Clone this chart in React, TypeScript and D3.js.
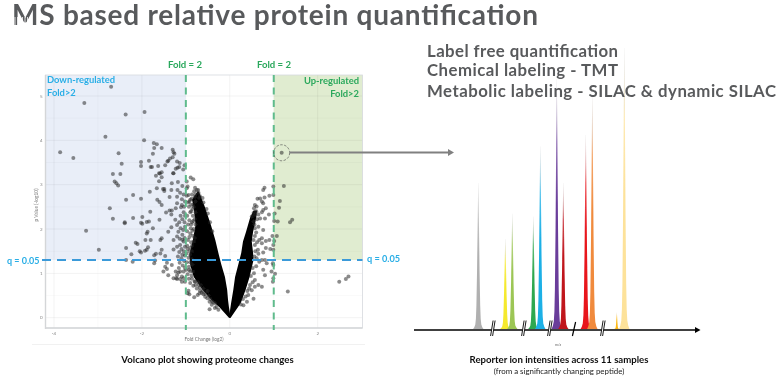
import React from "react";
import * as d3 from "d3";

const W = 777, H = 382;

// ---------- volcano data: [log2 fold change, -log10 p]
const pointsDownRegulated: number[][] = [
[-2.70,5.21],[-3.31,4.84],[-2.37,4.58],[-1.94,4.64],[-2.83,4.08],[-1.95,4.0],[-3.86,3.73],[-3.56,3.6],[-2.53,3.71],[-2.46,3.47],
[-1.73,3.94],[-1.66,3.91],[-1.72,3.83],[-1.55,3.83],[-1.75,3.70],[-1.30,3.79],[-1.28,3.73],[-1.26,3.70],[-1.30,3.62],[-1.36,3.59],
[-1.40,3.54],[-1.42,3.52],[-2.02,3.51],[-2.02,3.42],[-1.84,3.54],[-1.80,3.40],[-1.77,3.40],[-1.63,3.42],[-1.47,3.44],[-1.20,3.52],
[-1.14,3.49],[-1.23,3.36],[-1.19,3.38],[-1.15,3.40],[-1.06,3.34],[-1.03,3.44],[-1.55,3.28],[-1.59,3.25],[-1.28,3.26],[-2.66,3.24],[-2.49,3.24],
[-2.62,3.07],[-2.58,3.03],[-2.54,2.98],[-2.20,2.77],[-2.36,2.66],[-2.02,2.68],[-2.73,2.47],[-2.66,2.23],[-2.39,2.15],[-2.39,2.13],
[-2.20,2.25],[-1.99,2.27],[-1.81,2.39],[-3.27,1.96],[-2.98,1.53],[-2.36,1.57],[-2.14,1.69],[-2.10,1.66],[-2.24,1.43],[-2.05,1.50],[-2.02,1.47],
[-1.93,1.51],[-1.89,1.53],[-1.86,1.59],[-1.92,1.75],[-1.80,1.75],[-1.89,1.90],[-1.87,1.94],[-2.02,2.14],[-1.99,2.12],[-1.89,2.16],[-1.84,2.17],
[-1.75,2.02],[-1.60,2.21],[-1.65,2.66],[-1.60,2.61],[-1.55,2.54],[-1.82,2.84],[-1.66,2.92],[-1.52,2.90],[-1.49,2.90],[-1.49,2.86],
[-1.68,3.20],[-1.61,3.26],[-1.55,3.17],[-1.61,3.08],[-1.29,3.26],[-1.32,3.03],[-1.18,3.06],[-1.08,2.97],[-0.98,3.07],[-0.96,2.96],
[-1.33,2.88],[-1.37,2.72],[-1.19,2.88],[-1.13,2.82],[-1.20,2.73],[-1.09,2.67],[-1.20,2.58],[-1.09,2.54],[-1.37,2.42],[-1.45,2.37],
[-1.32,2.42],[-1.33,2.33],[-1.23,2.47],[-1.11,2.49],[-1.24,2.21],[-1.20,2.09],[-1.33,2.04],[-1.40,1.94],[-1.17,1.94],[-1.28,1.75],
[-1.55,1.79],[-1.58,1.75],[-1.20,1.83],[-1.08,1.87],[-1.02,2.05],[-1.05,1.72],[-1.13,1.64],[-1.20,1.60],[-1.28,1.54],[-1.02,1.60],
[-1.55,1.53],[-1.58,1.45],[-1.68,1.44],[-1.47,1.39],[-1.72,1.41],[-1.72,1.23],[-1.43,1.24],[-1.32,1.19],[-1.47,1.15],[-2.21,1.26],[-2.36,1.30],
[-1.70,1.29],[-1.51,1.04],[-1.43,1.10],[-1.23,1.04],[-1.40,0.96],[-1.13,1.04],[-1.20,0.87],[-1.28,0.89],[-1.05,0.89],[-1.09,0.81],
[-1.12,2.30],[-1.05,2.38],[-1.15,2.15],[-1.08,2.22],[-1.03,2.15],[-1.12,2.02],[-1.06,1.98],[-1.14,1.78],[-1.08,1.76],[-1.03,1.80],
[-1.10,1.55],[-1.05,1.50],[-1.15,1.48],[-1.08,1.42],[-1.02,1.40],[-1.18,1.38],[-1.10,1.34],[-1.04,1.28],[-1.14,1.24],[-1.07,1.18],
[-1.02,1.12],[-1.16,1.12],[-1.05,2.78],[-1.02,2.62],[-1.04,2.50],[-1.02,2.30],
];
const pointsLeftFringe: number[][] = [
[-0.94,0.61],[-0.96,0.55],[-0.92,0.53],[-0.81,0.46],[-0.73,0.51],[-0.68,0.61],[-0.64,0.56],[-0.60,0.53],[-0.56,0.47],[-0.46,0.36],
[-0.46,0.19],[-0.41,0.29],[-0.33,0.32],[-0.51,0.44],[-0.69,0.55],[-1.20,0.96],[-1.22,0.89],[-1.13,0.87],[-1.02,0.81],[-1.05,1.04],
[-1.17,1.02],[-1.09,0.93],[-0.90,0.78],[-0.83,0.72],[-0.79,0.81],[-0.71,0.74],[-0.75,0.66],[-0.60,0.66],[-0.52,0.59],
[-0.89,3.16],[-0.83,3.12],[-0.79,2.93],[-0.75,2.88],[-0.81,2.85],[-0.71,2.81],[-0.98,2.92],[-0.94,2.77],[-0.90,2.66],
[-0.98,2.75],[-0.95,2.6],[-0.93,2.5],[-0.88,2.55],[-0.85,2.45],[-0.9,2.38],[-0.97,2.3],[-0.84,2.3],[-0.92,2.2],[-0.86,2.15],[-0.8,2.22],
[-0.95,2.1],[-0.89,2.02],[-0.82,2.0],[-0.97,1.95],[-0.9,1.9],[-0.84,1.85],[-0.8,1.8],[-0.95,1.75],[-0.88,1.7],[-0.97,1.62],[-0.92,1.5],
[-0.9,1.58],[-0.99,1.45],[-0.94,1.35],[-0.98,1.25],[-0.93,1.15],[-0.99,1.08],[-0.96,0.98],[-0.9,1.05],[-0.87,0.95],[-0.93,0.88],
[-0.8,0.82],[-0.72,0.8],[-0.66,0.74],[-0.83,2.55],[-0.78,2.62],[-0.87,2.68],[-0.8,2.72],[-0.72,2.88],[-0.68,2.74],[-0.62,2.7],[-0.6,2.6],
[-0.53,2.45],[-0.5,2.35],[-0.45,2.15],[-0.4,1.95],
[-0.86,2.78],[-0.78,2.78],[-0.70,2.70],[-0.92,2.62],[-0.82,2.50],[-0.88,2.40],[-0.78,2.38],[-0.83,2.18],[-0.88,2.10],[-0.78,2.10],
[-0.85,1.96],[-0.92,1.82],[-0.82,1.72],[-0.86,1.62],[-0.96,1.55],[-0.86,1.50],[-0.90,1.42],[-0.86,1.32],[-0.90,1.25],[-0.85,1.20],
[-0.92,1.08],[-0.84,1.04],[-0.86,0.88],[-0.78,0.74],[-0.68,0.68],[-0.62,0.60],[-0.56,0.54],[-0.48,0.50],[-0.44,0.42],[-0.38,0.34],
[-0.30,0.24],[-0.26,0.18],[-0.34,0.22],[-0.40,0.37],[-0.50,0.60],
];
const pointsRightFringe: number[][] = [
[0.76,2.88],[0.79,2.93],[0.99,2.96],[0.90,2.75],[0.99,2.77],[0.79,2.71],[0.69,2.69],[0.63,2.68],[0.76,2.58],[0.73,2.62],[0.61,2.51],
[0.55,2.47],[0.57,2.54],[0.82,2.47],[0.76,2.43],[0.89,2.33],[0.73,2.38],[0.65,2.33],[0.57,2.32],[0.50,2.28],[0.80,2.24],[0.69,2.24],
[0.54,2.17],[0.65,2.05],[0.57,2.02],[0.76,1.98],[0.67,1.75],[0.73,1.79],[0.82,1.73],[0.90,1.75],[0.73,1.68],[0.82,1.57],[0.99,1.53],
[0.99,1.64],[0.92,1.55],[0.64,1.53],[0.97,1.84],[1.07,1.84],[1.01,1.73],[0.57,1.84],[0.54,1.75],[0.57,1.64],
[0.65,1.44],[0.76,1.47],[0.61,1.34],[0.73,1.30],[0.80,1.30],[0.67,1.26],[0.76,1.08],[0.80,0.96],[0.65,0.74],[0.73,0.70],[0.57,0.70],
[0.54,0.43],[0.39,0.36],[0.31,0.28],[1.03,0.99],[0.95,1.04],[0.99,0.89],[0.98,0.81],[0.99,1.19],[0.84,1.23],[0.98,1.23],
[0.42,0.51],[0.50,0.62],[0.46,0.74],[0.57,0.85],
[0.60,2.40],[0.54,2.36],[0.62,2.22],[0.56,2.10],[0.60,1.92],[0.62,1.70],[0.58,1.50],[0.56,1.38],[0.60,1.16],[0.52,1.12],[0.55,1.00],
[0.48,0.94],[0.52,0.80],[0.44,0.66],[0.40,0.60],[0.36,0.48],[0.30,0.42],[0.25,0.30],
];
const pointsUpRegulated: number[][] = [
[1.18,3.72],[1.23,2.97],[1.14,2.63],[1.12,2.48],[1.02,2.35],[1.09,2.17],[1.37,2.15],[1.42,2.21],[1.01,2.18],
[1.32,0.59],[2.49,0.81],[2.64,0.87],[2.70,0.93],
];
// dense core of the two arms: [-log10 p, left x, right x]
const armLeft: number[][] = [
[2.84,-0.74,-0.70],[2.66,-0.86,-0.63],[2.48,-0.82,-0.56],[2.09,-0.78,-0.43],[1.75,-0.84,-0.33],[1.42,-0.92,-0.25],
[1.19,-0.90,-0.19],[0.92,-0.82,-0.11],[0.63,-0.62,-0.06],[0.40,-0.42,-0.04],[0.24,-0.24,-0.02],[0,-0.02,0.02],
];
const armRight: number[][] = [
[0,-0.02,0.02],[0.33,0.03,0.25],[0.63,0.08,0.36],[0.92,0.12,0.45],[1.30,0.22,0.54],[1.46,0.26,0.53],[1.72,0.30,0.50],
[1.94,0.37,0.53],[2.25,0.46,0.60],[2.42,0.54,0.62],
];
const xTicks = [-4, -2, 0, 2];
const xMinor = [-3, -1, 1];
const yTicks = [0, 1, 2, 3, 4, 5];
const yMinor = [0.5, 1.5, 2.5, 3.5, 4.5];
const foldLines = [-1, 1];
const qLine = 1.3;

// ---------- reporter ion data
const reporterPos = [0, 27, 34, 55, 62, 78.5, 85, 107.5, 114, 138.5, 146];
const reporterIntensity = [52, 32, 41, 40, 65, 89, 52, 69, 83, 6, 100];
const reporterColor = ["#b0b0b0","#f5e92e","#9cc655","#2fa84f","#1fb0e6","#6a3d9a","#c0141c","#e8141c","#f08a3c","#fdb813","#fde29a"];
const peakFrac = [0, 0.012, 0.03, 0.07, 0.16, 0.4, 0.75, 1];
const peakHalf = [5.2, 4.0, 3.0, 2.4, 1.9, 1.25, 0.6, 0.1];
const axisBreaks = [15, 46, 72, 95.7, 125];
const breakDouble = [true, true, true, false, true];

const sx = d3.scaleLinear().domain([-4, 2]).range([54, 317.7]);
const sy = d3.scaleLinear().domain([0, 5]).range([317.7, 96]);
const PL = 45.5, PR = 362.5, PT = 75, PB = 328;
const rx = d3.scaleLinear().domain([0, 146]).range([478.3, 624.3]);
const ry = d3.scaleLinear().domain([0, 100]).range([329, 48]);

const armPath = d3.area<number[]>().y((d) => sy(d[0])).x0((d) => sx(d[1])).x1((d) => sx(d[2]));

const LAB = "Lato, sans-serif";
const ink = "#595a5c";

export default function App() {
  const allPoints = [...pointsDownRegulated, ...pointsLeftFringe, ...pointsRightFringe, ...pointsUpRegulated];
  const qY = sy(qLine);
  return (
    <svg width={W} height={H} viewBox={`0 0 ${W} ${H}`} style={{ position: "absolute", left: 0, top: 0, background: "#fff" }}>
      <defs>
        <filter id="soft" x="-5%" y="-5%" width="110%" height="110%">
          <feGaussianBlur stdDeviation="0.35" />
        </filter>
        {reporterColor.map((c, i) => (
          <linearGradient key={i} id={`pk${i}`} x1="0" y1="0" x2="0" y2="1">
            <stop offset="0" stopColor="#a9a9a9" stopOpacity="0.35" />
            <stop offset="0.25" stopColor={c} stopOpacity="0.75" />
            <stop offset="0.5" stopColor={c} />
            <stop offset="1" stopColor={c} />
          </linearGradient>
        ))}
      </defs>

      <g filter="url(#soft)">
        {/* panel */}
        <rect x={PL} y={PT} width={sx(-1) - PL} height={qY - PT} fill="#e9eef8" />
        <rect x={sx(1)} y={PT} width={PR - sx(1)} height={qY - PT} fill="#e0ecd0" />
        {xMinor.map((t) => <line key={t} x1={sx(t)} x2={sx(t)} y1={PT} y2={PB} stroke="#000" strokeOpacity="0.025" />)}
        {xTicks.map((t) => <line key={t} x1={sx(t)} x2={sx(t)} y1={PT} y2={PB} stroke="#000" strokeOpacity="0.05" />)}
        {yMinor.map((t) => <line key={t} x1={PL} x2={PR} y1={sy(t)} y2={sy(t)} stroke="#000" strokeOpacity="0.025" />)}
        {yTicks.map((t) => <line key={t} x1={PL} x2={PR} y1={sy(t)} y2={sy(t)} stroke="#000" strokeOpacity="0.05" />)}
        <rect x={PL} y={PT} width={PR - PL} height={PB - PT} fill="none" stroke="#d6d9de" strokeWidth="0.8" />
        <line x1={PL} x2={PL} y1={PT} y2={PB + 1} stroke="#d4d6d8" strokeWidth="1.4" />
        <line x1={PL} x2={PR} y1={PB} y2={PB} stroke="#d4d6d8" strokeWidth="1.4" />
        <line x1={32} x2={365} y1={344.5} y2={344.5} stroke="#eeeeee" strokeWidth="0.8" />

        {/* axis text */}
        {xTicks.map((t) => (
          <text key={t} x={sx(t)} y={335} textAnchor="middle" fontSize="4.5" fill="#888" fontFamily={LAB}>{t}</text>
        ))}
        {yTicks.map((t) => (
          <text key={t} x={42.5} y={sy(t) + 1.5} textAnchor="end" fontSize="4.5" fill="#888" fontFamily={LAB}>{t}</text>
        ))}
        <text x={204} y={340.5} textAnchor="middle" fontSize="4.8" fill="#777" fontFamily={LAB}>Fold Change (log2)</text>
        <text transform="translate(37.5,205) rotate(-90)" textAnchor="middle" fontSize="4.8" fill="#777" fontFamily={LAB}>p Value (-log10)</text>

        {/* volcano */}
        <path d={armPath(armLeft) ?? ""} fill="#000" />
        <path d={armPath(armRight) ?? ""} fill="#000" />
        {allPoints.map((d, i) => (
          <circle key={i} cx={sx(d[0])} cy={sy(d[1])} r={2} fill="#222" fillOpacity="0.52" />
        ))}

        {/* thresholds */}
        {foldLines.map((t) => (
          <line key={t} x1={sx(t)} x2={sx(t)} y1={PT} y2={PB + 2} stroke="#5fbb8c" strokeWidth="2" strokeDasharray="7 5.5" />
        ))}
        <line x1={42} x2={PR} y1={qY} y2={qY} stroke="#3a9ad9" strokeWidth="2" strokeDasharray="9 6" />

        {/* selected point and arrow */}
        <circle cx={sx(1.18)} cy={sy(3.72)} r={8} fill="none" stroke="#555" strokeWidth="0.7" strokeDasharray="2.5 1.5" />
        <line x1={290} x2={450} y1={152.5} y2={152.5} stroke="#808080" strokeWidth="2" />
        <path d="M448,149 L454,152.5 L448,156 Z" fill="#808080" />

        {/* labels */}
        <g fontFamily={LAB} fontWeight="700">
          <text x={185} y={68} textAnchor="middle" fontSize="9.6" fill="#2aa85c">Fold = 2</text>
          <text x={274} y={68} textAnchor="middle" fontSize="9.6" fill="#2aa85c">Fold = 2</text>
          <text x={47} y={83} fontSize="9.4" fill="#29aee6">Down-regulated</text>
          <text x={47} y={96} fontSize="9.4" fill="#29aee6">Fold&gt;2</text>
          <text x={359} y={84} textAnchor="end" fontSize="9.4" fill="#2aa85c">Up-regulated</text>
          <text x={359} y={97} textAnchor="end" fontSize="9.4" fill="#2aa85c">Fold&gt;2</text>
          <text x={7} y={263.5} fontSize="9" fill="#29aee6">q = 0.05</text>
          <text x={367} y={261.5} fontSize="9.2" fill="#29aee6">q = 0.05</text>
          <text x={207.5} y={363} textAnchor="middle" fontSize="9.6" fill="#111">Volcano plot showing proteome changes</text>
          <text x={559} y={363} textAnchor="middle" fontSize="9.6" fill="#111">Reporter ion intensities across 11 samples</text>
        </g>
        <text x={559} y={374} textAnchor="middle" fontSize="7.9" fill="#222" fontFamily={LAB}>(from a significantly changing peptide)</text>
        <text x={558} y={346} textAnchor="middle" fontSize="3.6" fill="#555" fontFamily={LAB}>m/z</text>

        {/* reporter ions */}
        {reporterPos.map((p, i) => {
          const v = reporterIntensity[i];
          const k = v < 15 ? 0.5 : 1;
          const rows = peakFrac.map((f, j) => [f * v, peakHalf[j] * k]);
          const d = d3.area<number[]>()
            .y((r) => ry(r[0]))
            .x0((r) => rx(p) - r[1])
            .x1((r) => rx(p) + r[1])(rows);
          return <path key={i} d={d ?? ""} fill={`url(#pk${i})`} />;
        })}
        <line x1={414} x2={696} y1={330} y2={330} stroke="#000" strokeWidth="1.6" />
        <path d="M695,327 L700.5,330 L695,333 Z" fill="#000" />
        {axisBreaks.map((b, i) => {
          const x = rx(b);
          return (
            <g key={i} stroke="#000" strokeWidth="0.9">
              {breakDouble[i] ? (
                <>
                  <path d={`M${x - 0.5},321 L${x - 3},335.5 L${x - 0.5},335.5 L${x + 2},321 Z`} fill="#fff" stroke="none" />
                  <line x1={x - 0.2} x2={x - 2.7} y1={320.5} y2={336} />
                  <line x1={x + 1.8} x2={x - 0.7} y1={320.5} y2={336} />
                </>
              ) : (
                <line x1={x + 1.6} x2={x - 1.6} y1={322} y2={336} strokeWidth="1.2" />
              )}
            </g>
          );
        })}

        {/* headings */}
        <text x={12} y={25} fontFamily={LAB} fontWeight="700" fontSize="28" fill={ink} textLength={526} lengthAdjust="spacing">MS based relative protein quantification</text>
        <g stroke="#fff" strokeWidth="0.8">
          {[15, 17.5, 20, 22.5, 25, 27.5].map((x) => <line key={x} x1={x} x2={x} y1={17} y2={26} />)}
        </g>
        <g fontFamily={LAB} fontWeight="700" fontSize="16.8" fill={ink}>
          <text x={427} y={57} textLength={191} lengthAdjust="spacing">Label free quantification</text>
          <text x={427} y={76} textLength={191} lengthAdjust="spacing">Chemical labeling - TMT</text>
          <text x={427} y={97} textLength={349} lengthAdjust="spacing">Metabolic labeling - SILAC &amp; dynamic SILAC</text>
        </g>
      </g>
    </svg>
  );
}
